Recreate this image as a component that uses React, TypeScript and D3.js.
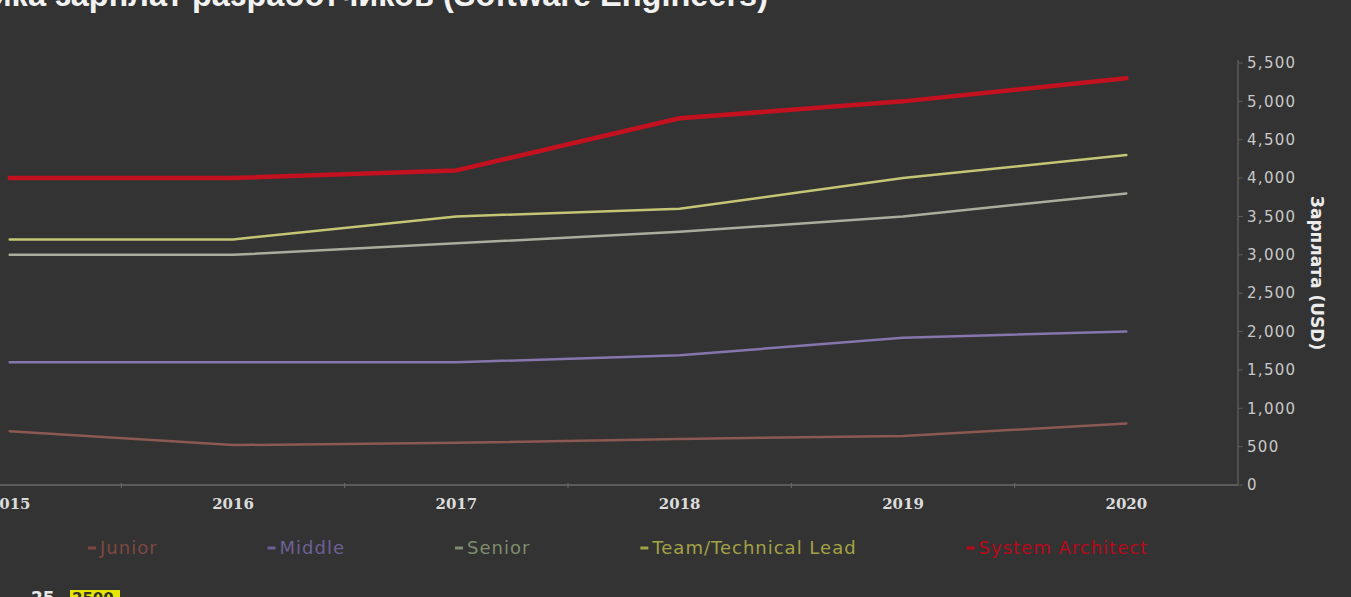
'use client'

import { useEffect, useRef } from 'react'
import * as d3 from 'd3'

const years = [2015, 2016, 2017, 2018, 2019, 2020]
const junior = [700, 520, 550, 600, 640, 800]
const middle = [1600, 1600, 1600, 1690, 1920, 2000]
const senior = [3000, 3000, 3150, 3300, 3500, 3800]
const teamLead = [3200, 3200, 3500, 3600, 4000, 4300]
const architect = [4000, 4000, 4100, 4780, 5000, 5300]
const seriesNames = ['Junior', 'Middle', 'Senior', 'Team/Technical Lead', 'System Architect']
const yTicks = [0, 500, 1000, 1500, 2000, 2500, 3000, 3500, 4000, 4500, 5000, 5500]

const W = 1351
const H = 597

export default function App() {
  const svgRef = useRef<SVGSVGElement>(null)

  useEffect(() => {
    if (!svgRef.current) return
    document.body.style.margin = '0'
    document.body.style.background = '#333333'

    const svg = d3.select(svgRef.current)
    svg.selectAll('*').remove()

    const series = [
      { name: seriesNames[0], values: junior, color: '#8c5852', legend: '#7d4742', width: 2.5 },
      { name: seriesNames[1], values: middle, color: '#8576ad', legend: '#6e5f96', width: 2.5 },
      { name: seriesNames[2], values: senior, color: '#a9ae9c', legend: '#7f8c6e', width: 2.5 },
      { name: seriesNames[3], values: teamLead, color: '#c6c576', legend: '#a3a245', width: 2.5 },
      { name: seriesNames[4], values: architect, color: '#c3111f', legend: '#b9081a', width: 4.5 },
    ]

    const x = d3.scaleLinear().domain([2014.5, 2020.5]).range([-102, 1238])
    const y = d3.scaleLinear().domain([0, 5500]).range([485, 63])

    svg.append('rect').attr('width', W).attr('height', H).attr('fill', '#333333')

    // title (cut off by the frame)
    svg.append('text')
      .attr('x', 768)
      .attr('y', 6)
      .attr('text-anchor', 'end')
      .style('font-family', '"Liberation Sans", Arial, sans-serif')
      .style('font-size', '32.5px')
      .style('font-weight', 'bold')
      .style('fill', '#f2f2f2')
      .text('Динамика зарплат разработчиков (Software Engineers)')

    // x axis
    svg.append('line')
      .attr('x1', 0).attr('x2', x(2020.5))
      .attr('y1', y(0)).attr('y2', y(0))
      .attr('stroke', '#6a6a6a').attr('stroke-width', 1.5)

    const halfYears = d3.range(2014.5, 2020.5, 1)
    svg.append('g').selectAll('line')
      .data(halfYears)
      .enter().append('line')
      .attr('x1', d => x(d)).attr('x2', d => x(d))
      .attr('y1', y(0) - 2).attr('y2', y(0) + 3)
      .attr('stroke', '#6a6a6a')

    svg.append('g').selectAll('text')
      .data(years)
      .enter().append('text')
      .attr('x', d => x(d))
      .attr('y', 509)
      .attr('text-anchor', 'middle')
      .style('font-family', '"DejaVu Serif", serif')
      .style('font-size', '15px')
      .style('font-weight', '600')
      .style('fill', '#dcdcdc')
      .text(d => String(d))

    // y axis on the right
    const axisX = x(2020.5)
    svg.append('line')
      .attr('x1', axisX).attr('x2', axisX)
      .attr('y1', y(5500) - 3).attr('y2', y(0))
      .attr('stroke', '#5a5a5a').attr('stroke-width', 1.5)

    const yt = svg.append('g').selectAll('g')
      .data(yTicks)
      .enter().append('g')
      .attr('transform', d => `translate(${axisX},${y(d)})`)
    yt.append('line').attr('x1', 0).attr('x2', 5).attr('stroke', '#5a5a5a')
    yt.append('text')
      .attr('x', 9)
      .attr('dy', '0.35em')
      .style('font-family', '"DejaVu Sans", Verdana, sans-serif')
      .style('font-size', '15px')
      .style('letter-spacing', '1.3px')
      .style('fill', '#c8c8c8')
      .text(d => d3.format(',')(d))

    svg.append('text')
      .attr('transform', `translate(1311,273) rotate(90)`)
      .attr('text-anchor', 'middle')
      .style('font-family', '"DejaVu Sans", sans-serif')
      .style('font-size', '17px')
      .style('font-weight', 'bold')
      .style('fill', '#ececec')
      .text('Зарплата (USD)')

    // lines
    const line = d3.line<number>()
      .x((_, i) => x(years[i]))
      .y(d => y(d))

    svg.append('g').selectAll('path')
      .data(series)
      .enter().append('path')
      .attr('d', d => line(d.values))
      .attr('fill', 'none')
      .attr('stroke', d => d.color)
      .attr('stroke-width', d => d.width)
      .attr('stroke-linecap', 'round')
      .attr('stroke-linejoin', 'round')

    // legend, laid out item after item
    const legend = svg.append('g').attr('transform', 'translate(0,548)')
    let cursor = 88
    series.forEach(s => {
      const item = legend.append('g').attr('transform', `translate(${cursor},0)`)
      item.append('rect')
        .attr('x', 0).attr('y', -1.5)
        .attr('width', 8).attr('height', 3)
        .attr('fill', s.legend)
      const t = item.append('text')
        .attr('x', 12)
        .attr('dy', '0.35em')
        .style('font-family', '"DejaVu Sans", sans-serif')
        .style('font-size', '18px')
        .style('letter-spacing', '1px')
        .style('fill', s.legend)
        .text(s.name)
      const w = (t.node() as SVGTextElement).getComputedTextLength()
      cursor += 12 + w + 110
    })

    // overlay remnant at the bottom-left
    svg.append('text')
      .attr('x', 18).attr('y', 604)
      .style('font-family', '"DejaVu Sans", sans-serif')
      .style('font-size', '17px')
      .style('font-weight', 'bold')
      .style('fill', '#e8e8e8')
      .text('- 25')
    svg.append('rect')
      .attr('x', 70).attr('y', 590)
      .attr('width', 50).attr('height', 14)
      .attr('fill', '#e6e600')
    svg.append('text')
      .attr('x', 72).attr('y', 604)
      .style('font-family', '"DejaVu Sans", sans-serif')
      .style('font-size', '15px')
      .style('font-weight', 'bold')
      .style('fill', '#333')
      .text('2500')
  }, [])

  return (
    <svg
      ref={svgRef}
      width={W}
      height={H}
      style={{ position: 'absolute', left: 0, top: 0, display: 'block' }}
    />
  )
}
